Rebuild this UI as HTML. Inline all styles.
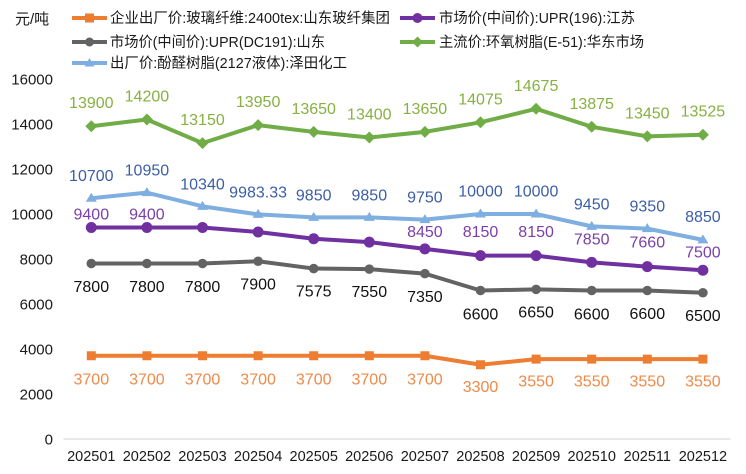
<!DOCTYPE html>
<html><head><meta charset="utf-8"><style>
html,body{margin:0;padding:0;background:#fff;}
svg{display:block;}
text{font-family:"Liberation Sans","Noto Sans CJK SC",sans-serif;}
</style></head><body>
<svg width="746" height="474" viewBox="0 0 746 474" xmlns="http://www.w3.org/2000/svg">
<rect width="746" height="474" fill="#fff"/>
<!-- unit -->
<text x="15" y="24" font-size="15" fill="#1a1a1a">元/吨</text>
<!-- legend -->
<g font-size="14.5" fill="#1a1a1a">
  <line x1="72" y1="18" x2="107" y2="18" stroke="#ED7D31" stroke-width="4"/>
  <rect x="85" y="13.5" width="9" height="9" fill="#ED7D31"/>
  <text x="110" y="23" textLength="280" lengthAdjust="spacingAndGlyphs">企业出厂价:玻璃纤维:2400tex:山东玻纤集团</text>
  <line x1="72" y1="42" x2="107" y2="42" stroke="#636363" stroke-width="4"/>
  <circle cx="89.5" cy="42" r="4.5" fill="#636363"/>
  <text x="110" y="47" textLength="215" lengthAdjust="spacingAndGlyphs">市场价(中间价):UPR(DC191):山东</text>
  <line x1="72" y1="63" x2="107" y2="63" stroke="#7FAEE0" stroke-width="4"/>
  <polygon points="89.5,58 94.5,66.5 84.5,66.5" fill="#7FAEE0"/>
  <text x="110" y="68" textLength="237" lengthAdjust="spacingAndGlyphs">出厂价:酚醛树脂(2127液体):泽田化工</text>
  <line x1="400" y1="18" x2="435" y2="18" stroke="#7030A0" stroke-width="4"/>
  <circle cx="417.5" cy="18" r="5" fill="#7030A0"/>
  <text x="439" y="23" textLength="196" lengthAdjust="spacingAndGlyphs">市场价(中间价):UPR(196):江苏</text>
  <line x1="400" y1="42" x2="435" y2="42" stroke="#70AD47" stroke-width="4"/>
  <polygon points="417.5,36.5 423,42 417.5,47.5 412,42" fill="#70AD47"/>
  <text x="439" y="47" textLength="205" lengthAdjust="spacingAndGlyphs">主流价:环氧树脂(E-51):华东市场</text>
</g>
<!-- y axis labels -->
<g font-size="15" fill="#1a1a1a" text-anchor="end">
  <text x="53" y="444.5">0</text>
  <text x="53" y="399.5">2000</text>
  <text x="53" y="354.5">4000</text>
  <text x="53" y="309.5">6000</text>
  <text x="53" y="264.5">8000</text>
  <text x="53" y="219.5">10000</text>
  <text x="53" y="174.5">12000</text>
  <text x="53" y="129.5">14000</text>
  <text x="53" y="84.5">16000</text>
</g>
<!-- axis line -->
<line x1="63.5" y1="439" x2="730.5" y2="439" stroke="#d9d9d9" stroke-width="1.3"/>
<!-- x labels -->
<g font-size="14.5" fill="#1a1a1a" text-anchor="middle">
  <text x="91.3" y="461">202501</text>
  <text x="146.9" y="461">202502</text>
  <text x="202.5" y="461">202503</text>
  <text x="258.1" y="461">202504</text>
  <text x="313.7" y="461">202505</text>
  <text x="369.3" y="461">202506</text>
  <text x="424.9" y="461">202507</text>
  <text x="480.5" y="461">202508</text>
  <text x="536.1" y="461">202509</text>
  <text x="591.7" y="461">202510</text>
  <text x="647.3" y="461">202511</text>
  <text x="702.9" y="461">202512</text>
</g>
<!-- orange series -->
<polyline fill="none" stroke="#ED7D31" stroke-width="4" stroke-linejoin="round" points="91.3,355.75 146.9,355.75 202.5,355.75 258.1,355.75 313.7,355.75 369.3,355.75 424.9,355.75 480.5,364.75 536.1,359.13 591.7,359.13 647.3,359.13 702.9,359.13"/>
<g fill="#ED7D31">
  <rect x="86.8" y="351.25" width="9" height="9"/>
  <rect x="142.4" y="351.25" width="9" height="9"/>
  <rect x="198" y="351.25" width="9" height="9"/>
  <rect x="253.6" y="351.25" width="9" height="9"/>
  <rect x="309.2" y="351.25" width="9" height="9"/>
  <rect x="364.8" y="351.25" width="9" height="9"/>
  <rect x="420.4" y="351.25" width="9" height="9"/>
  <rect x="476" y="360.25" width="9" height="9"/>
  <rect x="531.6" y="354.63" width="9" height="9"/>
  <rect x="587.2" y="354.63" width="9" height="9"/>
  <rect x="642.8" y="354.63" width="9" height="9"/>
  <rect x="698.4" y="354.63" width="9" height="9"/>
</g>
<!-- gray series -->
<polyline fill="none" stroke="#636363" stroke-width="4" stroke-linejoin="round" points="91.3,263.5 146.9,263.5 202.5,263.5 258.1,261.25 313.7,268.56 369.3,269.13 424.9,273.63 480.5,290.5 536.1,289.38 591.7,290.5 647.3,290.5 702.9,292.75"/>
<g fill="#636363">
  <circle cx="91.3" cy="263.5" r="4.8"/>
  <circle cx="146.9" cy="263.5" r="4.8"/>
  <circle cx="202.5" cy="263.5" r="4.8"/>
  <circle cx="258.1" cy="261.25" r="4.8"/>
  <circle cx="313.7" cy="268.56" r="4.8"/>
  <circle cx="369.3" cy="269.13" r="4.8"/>
  <circle cx="424.9" cy="273.63" r="4.8"/>
  <circle cx="480.5" cy="290.5" r="4.8"/>
  <circle cx="536.1" cy="289.38" r="4.8"/>
  <circle cx="591.7" cy="290.5" r="4.8"/>
  <circle cx="647.3" cy="290.5" r="4.8"/>
  <circle cx="702.9" cy="292.75" r="4.8"/>
</g>
<!-- purple series -->
<polyline fill="none" stroke="#7030A0" stroke-width="4" stroke-linejoin="round" points="91.3,227.5 146.9,227.5 202.5,227.5 258.1,232 313.7,238.75 369.3,242.13 424.9,248.88 480.5,255.63 536.1,255.63 591.7,262.38 647.3,266.65 702.9,270.25"/>
<g fill="#7030A0">
  <circle cx="91.3" cy="227.5" r="5.5"/>
  <circle cx="146.9" cy="227.5" r="5.5"/>
  <circle cx="202.5" cy="227.5" r="5.5"/>
  <circle cx="258.1" cy="232" r="5.5"/>
  <circle cx="313.7" cy="238.75" r="5.5"/>
  <circle cx="369.3" cy="242.13" r="5.5"/>
  <circle cx="424.9" cy="248.88" r="5.5"/>
  <circle cx="480.5" cy="255.63" r="5.5"/>
  <circle cx="536.1" cy="255.63" r="5.5"/>
  <circle cx="591.7" cy="262.38" r="5.5"/>
  <circle cx="647.3" cy="266.65" r="5.5"/>
  <circle cx="702.9" cy="270.25" r="5.5"/>
</g>
<!-- blue series -->
<polyline fill="none" stroke="#7FAEE0" stroke-width="4" stroke-linejoin="round" points="91.3,198.25 146.9,192.63 202.5,206.35 258.1,214.38 313.7,217.38 369.3,217.38 424.9,219.63 480.5,214 536.1,214 591.7,226.38 647.3,228.63 702.9,239.88"/>
<g fill="#7FAEE0">
  <polygon points="91.3,192.75 96.8,201.75 85.8,201.75"/>
  <polygon points="146.9,187.13 152.4,196.13 141.4,196.13"/>
  <polygon points="202.5,200.85 208,209.85 197,209.85"/>
  <polygon points="258.1,208.88 263.6,217.88 252.6,217.88"/>
  <polygon points="313.7,211.88 319.2,220.88 308.2,220.88"/>
  <polygon points="369.3,211.88 374.8,220.88 363.8,220.88"/>
  <polygon points="424.9,214.13 430.4,223.13 419.4,223.13"/>
  <polygon points="480.5,208.5 486,217.5 475,217.5"/>
  <polygon points="536.1,208.5 541.6,217.5 530.6,217.5"/>
  <polygon points="591.7,220.88 597.2,229.88 586.2,229.88"/>
  <polygon points="647.3,223.13 652.8,232.13 641.8,232.13"/>
  <polygon points="702.9,234.38 708.4,243.38 697.4,243.38"/>
</g>
<!-- green series -->
<polyline fill="none" stroke="#70AD47" stroke-width="4" stroke-linejoin="round" points="91.3,126.25 146.9,119.5 202.5,143.13 258.1,125.13 313.7,131.88 369.3,137.5 424.9,131.88 480.5,122.31 536.1,108.81 591.7,126.81 647.3,136.38 702.9,134.69"/>
<g fill="#70AD47">
  <polygon points="91.3,120.25 97.3,126.25 91.3,132.25 85.3,126.25"/>
  <polygon points="146.9,113.5 152.9,119.5 146.9,125.5 140.9,119.5"/>
  <polygon points="202.5,137.13 208.5,143.13 202.5,149.13 196.5,143.13"/>
  <polygon points="258.1,119.13 264.1,125.13 258.1,131.13 252.1,125.13"/>
  <polygon points="313.7,125.88 319.7,131.88 313.7,137.88 307.7,131.88"/>
  <polygon points="369.3,131.5 375.3,137.5 369.3,143.5 363.3,137.5"/>
  <polygon points="424.9,125.88 430.9,131.88 424.9,137.88 418.9,131.88"/>
  <polygon points="480.5,116.31 486.5,122.31 480.5,128.31 474.5,122.31"/>
  <polygon points="536.1,102.81 542.1,108.81 536.1,114.81 530.1,108.81"/>
  <polygon points="591.7,120.81 597.7,126.81 591.7,132.81 585.7,126.81"/>
  <polygon points="647.3,130.38 653.3,136.38 647.3,142.38 641.3,136.38"/>
  <polygon points="702.9,128.69 708.9,134.69 702.9,140.69 696.9,134.69"/>
</g>
<!-- labels: green -->
<g font-size="16" fill="#86B142" text-anchor="middle">
  <text x="91.3" y="108.2">13900</text>
  <text x="146.9" y="101.5">14200</text>
  <text x="202.5" y="125.1">13150</text>
  <text x="258.1" y="107.1">13950</text>
  <text x="313.7" y="113.9">13650</text>
  <text x="369.3" y="119.5">13400</text>
  <text x="424.9" y="113.9">13650</text>
  <text x="480.5" y="104.3">14075</text>
  <text x="536.1" y="90.8">14675</text>
  <text x="591.7" y="108.8">13875</text>
  <text x="647.3" y="118.4">13450</text>
  <text x="702.9" y="116.7">13525</text>
</g>
<!-- labels: blue -->
<g font-size="16" fill="#3B5EA6" text-anchor="middle">
  <text x="91.3" y="181.2">10700</text>
  <text x="146.9" y="175.6">10950</text>
  <text x="202.5" y="189.3">10340</text>
  <text x="258.1" y="197.4">9983.33</text>
  <text x="313.7" y="200.4">9850</text>
  <text x="369.3" y="200.4">9850</text>
  <text x="424.9" y="202.6">9750</text>
  <text x="480.5" y="196.5">10000</text>
  <text x="536.1" y="196.5">10000</text>
  <text x="591.7" y="209.3">9450</text>
  <text x="647.3" y="211.3">9350</text>
  <text x="702.9" y="221.8">8850</text>
</g>
<!-- labels: purple -->
<g font-size="16" fill="#7A3FA8" text-anchor="middle">
  <text x="91.3" y="219.5">9400</text>
  <text x="146.9" y="219.5">9400</text>
  <text x="424.9" y="237">8450</text>
  <text x="480.5" y="237">8150</text>
  <text x="536.1" y="237">8150</text>
  <text x="591.7" y="244.3">7850</text>
  <text x="647.3" y="247.7">7660</text>
  <text x="702.9" y="257.7">7500</text>
</g>
<!-- labels: gray -->
<g font-size="16" fill="#111" text-anchor="middle">
  <text x="91.3" y="292">7800</text>
  <text x="146.9" y="292">7800</text>
  <text x="202.5" y="292">7800</text>
  <text x="258.1" y="289.3">7900</text>
  <text x="313.7" y="296.7">7575</text>
  <text x="369.3" y="297">7550</text>
  <text x="424.9" y="302">7350</text>
  <text x="480.5" y="319.3">6600</text>
  <text x="536.1" y="317.7">6650</text>
  <text x="591.7" y="319.3">6600</text>
  <text x="647.3" y="319">6600</text>
  <text x="702.9" y="321">6500</text>
</g>
<!-- labels: orange -->
<g font-size="16" fill="#EF8A48" text-anchor="middle">
  <text x="91.3" y="384.3">3700</text>
  <text x="146.9" y="384.3">3700</text>
  <text x="202.5" y="384.3">3700</text>
  <text x="258.1" y="384.3">3700</text>
  <text x="313.7" y="384.3">3700</text>
  <text x="369.3" y="384.3">3700</text>
  <text x="424.9" y="384.3">3700</text>
  <text x="480.5" y="392">3300</text>
  <text x="536.1" y="386.7">3550</text>
  <text x="591.7" y="386.7">3550</text>
  <text x="647.3" y="386.7">3550</text>
  <text x="702.9" y="386.7">3550</text>
</g>
</svg>
</body></html>
